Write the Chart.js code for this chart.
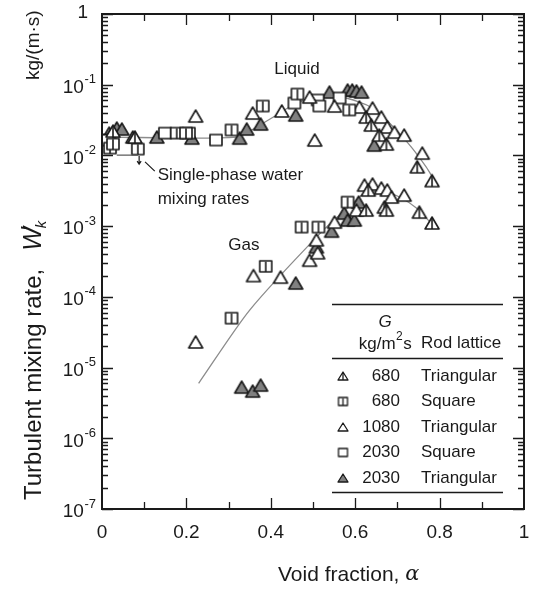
<!DOCTYPE html>
<html>
<head>
<meta charset="utf-8">
<script src="https://cdn.jsdelivr.net/npm/chart.js@4.4.1/dist/chart.umd.min.js"></script>
<style>
  html, body { margin: 0; padding: 0; background: #fff; }
</style>
</head>
<body>
<canvas id="mixing" width="534" height="589"></canvas>
<script>
const INK = '#1a1a1a';
const FIT_GRAY = '#8c8c8c';
const MARK_GRAY = '#808080';
const FONT = '"Liberation Sans", Arial, Helvetica, sans-serif';

// [void fraction, turbulent mixing rate kg/(m s)]
const tri680 = [
  [0.026, 0.0221], [0.078, 0.0182], [0.626, 0.0349], [0.638, 0.0269],
  [0.657, 0.0194], [0.674, 0.0145], [0.747, 0.0069], [0.782, 0.0044],
  [0.626, 0.00169], [0.669, 0.00186], [0.674, 0.00169], [0.752, 0.00158],
  [0.782, 0.00111], [0.631, 0.00324]
];
const sq680 = [
  [0.019, 0.0127], [0.026, 0.0145], [0.085, 0.0123], [0.177, 0.0207],
  [0.199, 0.0207], [0.307, 0.0229], [0.381, 0.050], [0.463, 0.0738],
  [0.586, 0.0439],
  [0.307, 5.0e-5], [0.388, 0.00027], [0.473, 0.00097], [0.513, 0.00097],
  [0.582, 0.00219]
];
const tri1080 = [
  [0.222, 0.0361], [0.357, 0.0398], [0.426, 0.0425], [0.492, 0.067],
  [0.504, 0.0165], [0.551, 0.050], [0.610, 0.0484], [0.641, 0.0468],
  [0.662, 0.0349], [0.676, 0.0252], [0.693, 0.0214], [0.716, 0.0194],
  [0.759, 0.0108],
  [0.222, 2.3e-5], [0.359, 0.00020], [0.423, 0.00019], [0.492, 0.00033],
  [0.508, 0.00064], [0.511, 0.00042], [0.551, 0.00114], [0.603, 0.00169],
  [0.622, 0.00381], [0.641, 0.00394], [0.662, 0.00346], [0.676, 0.00324],
  [0.686, 0.00258], [0.716, 0.00275]
];
const sq2030 = [
  [0.012, 0.0165], [0.149, 0.0207], [0.206, 0.0207], [0.270, 0.0165],
  [0.456, 0.0551], [0.511, 0.0608], [0.515, 0.050], [0.563, 0.0649]
];
const tri2030 = [
  [0.017, 0.0207], [0.035, 0.0244], [0.047, 0.0236], [0.073, 0.0182],
  [0.130, 0.0182], [0.213, 0.0176], [0.326, 0.0176], [0.343, 0.0236],
  [0.376, 0.0278], [0.459, 0.0373], [0.539, 0.0788], [0.582, 0.0841],
  [0.593, 0.0841], [0.603, 0.0815], [0.615, 0.0788], [0.645, 0.0140],
  [0.331, 5.3e-6], [0.357, 4.65e-6], [0.376, 5.65e-6], [0.459, 0.000157],
  [0.508, 0.00051], [0.544, 0.00085], [0.574, 0.00153], [0.582, 0.00122],
  [0.598, 0.00122], [0.608, 0.00219]
];

// correlation curves
const liquidFit = [
  [0, 0.0182], [0.319, 0.0182], [0.374, 0.0269], [0.414, 0.0373],
  [0.461, 0.0551], [0.508, 0.0649], [0.563, 0.067], [0.610, 0.0569],
  [0.641, 0.0468], [0.674, 0.0317], [0.704, 0.0207], [0.735, 0.0127],
  [0.768, 0.0069], [0.780, 0.0053]
];
const gasFit = [
  [0.229, 6.0e-6], [0.350, 6.5e-5], [0.522, 8.5e-4], [0.586, 1.9e-3],
  [0.626, 3.0e-3], [0.674, 3.0e-3], [0.704, 2.6e-3], [0.745, 1.8e-3],
  [0.780, 1.1e-3]
];

// single-phase water mixing rate bar
const singlePhase = { from: 0.035, to: 0.085, rate: 0.0101 };

const legendRows = [
  { kind: 'triBar', G: '680', lattice: 'Triangular' },
  { kind: 'sqBar', G: '680', lattice: 'Square' },
  { kind: 'tri', G: '1080', lattice: 'Triangular' },
  { kind: 'sq', G: '2030', lattice: 'Square' },
  { kind: 'triFill', G: '2030', lattice: 'Triangular' }
];

const xTickLabels = ['0', '0.2', '0.4', '0.6', '0.8', '1'];
const yDecades = [-7, -6, -5, -4, -3, -2, -1, 0];

function pts(arr) { return arr.map(p => ({ x: p[0], y: p[1] })); }

// little canvases used as point styles
function marker(kind, w, h, lw) {
  const pad = 2;
  const c = document.createElement('canvas');
  c.width = w + pad * 2;
  c.height = h + pad * 2;
  const g = c.getContext('2d');
  g.lineWidth = lw;
  g.strokeStyle = INK;
  g.lineJoin = 'round';
  const L = pad, R = pad + w, T = pad, B = pad + h, M = pad + w / 2;
  g.beginPath();
  if (kind.startsWith('tri')) {
    g.moveTo(M, T);
    g.lineTo(R, B);
    g.lineTo(L, B);
    g.closePath();
  } else {
    g.rect(L, T, w, h);
  }
  g.fillStyle = kind === 'triFill' ? MARK_GRAY : '#fff';
  g.fill();
  g.stroke();
  if (kind === 'triBar' || kind === 'sqBar') {
    g.beginPath();
    g.moveTo(M, T + 1);
    g.lineTo(M, B);
    g.stroke();
  }
  return c;
}

const bigMarks = {
  triBar: marker('triBar', 14, 12, 1.6),
  sqBar: marker('sqBar', 12, 11, 1.6),
  tri: marker('tri', 14, 12, 1.6),
  sq: marker('sq', 12, 11, 1.6),
  triFill: marker('triFill', 14, 12, 1.6)
};
const smallMarks = {
  triBar: marker('triBar', 10, 8, 1.3),
  sqBar: marker('sqBar', 9, 8, 1.3),
  tri: marker('tri', 10, 8, 1.3),
  sq: marker('sq', 9, 8, 1.3),
  triFill: marker('triFill', 10, 8, 1.3)
};

function markSet(data, kind) {
  return {
    data: pts(data),
    pointStyle: bigMarks[kind],
    pointRadius: 7,
    showLine: false,
    order: 1
  };
}

function fitSet(data) {
  return {
    data: pts(data),
    showLine: true,
    borderColor: FIT_GRAY,
    borderWidth: 1.3,
    pointRadius: 0,
    tension: 0.25,
    order: 10
  };
}

// text with a raised part, e.g. 10^-3; returns the right edge
function supText(ctx, base, sup, xLeft, y, size) {
  ctx.textAlign = 'left';
  ctx.font = `${size}px ${FONT}`;
  ctx.fillText(base, xLeft, y);
  const bw = ctx.measureText(base).width;
  ctx.font = `${Math.round(size * 0.68)}px ${FONT}`;
  ctx.fillText(sup, xLeft + bw + 0.5, y - size * 0.42);
  return xLeft + bw + 0.5 + ctx.measureText(sup).width;
}

function supWidth(ctx, base, sup, size) {
  ctx.font = `${size}px ${FONT}`;
  const bw = ctx.measureText(base).width;
  ctx.font = `${Math.round(size * 0.68)}px ${FONT}`;
  return bw + 0.5 + ctx.measureText(sup).width;
}

const decorations = {
  id: 'decorations',
  afterDatasetsDraw(chart) {
    const { ctx, chartArea: a } = chart;
    const xs = chart.scales.x, ys = chart.scales.y;
    ctx.save();
    ctx.fillStyle = INK;
    ctx.strokeStyle = INK;

    // frame
    ctx.lineWidth = 2;
    ctx.strokeRect(a.left, a.top, a.right - a.left, a.bottom - a.top);

    // inward ticks on all four sides
    ctx.lineWidth = 1.3;
    ctx.beginPath();
    for (let i = 1; i < 10; i++) {
      const px = Math.round(xs.getPixelForValue(i / 10)) + 0.5;
      const len = i % 2 === 0 ? 11 : 7;
      ctx.moveTo(px, a.bottom); ctx.lineTo(px, a.bottom - len);
      ctx.moveTo(px, a.top); ctx.lineTo(px, a.top + len);
    }
    yDecades.forEach(e => {
      for (let k = 1; k < 10; k++) {
        if (e === 0 && k > 1) break;
        const py = Math.round(ys.getPixelForValue(k * Math.pow(10, e))) + 0.5;
        const len = k === 1 ? 11 : 6;
        ctx.moveTo(a.left, py); ctx.lineTo(a.left + len, py);
        ctx.moveTo(a.right, py); ctx.lineTo(a.right - len, py);
      }
    });
    ctx.stroke();

    // x tick labels
    ctx.font = `19px ${FONT}`;
    ctx.textAlign = 'center';
    ctx.textBaseline = 'middle';
    xTickLabels.forEach(t => {
      ctx.fillText(t, xs.getPixelForValue(parseFloat(t)), a.bottom + 24);
    });

    // y tick labels
    yDecades.forEach(e => {
      const py = ys.getPixelForValue(Math.pow(10, e));
      if (e === 0) {
        ctx.font = `19px ${FONT}`;
        ctx.textAlign = 'right';
        ctx.fillText('1', 88, py - 1);
      } else {
        const w = supWidth(ctx, '10', String(e), 19);
        supText(ctx, '10', String(e), 96 - w, py + 3, 19);
      }
    });

    // x title
    ctx.textAlign = 'left';
    ctx.font = `21px ${FONT}`;
    const xt = 'Void fraction, ';
    ctx.fillText(xt, 278, a.bottom + 66);
    const xw = ctx.measureText(xt).width;
    ctx.font = `italic 21px "DejaVu Serif", serif`;
    ctx.fillText('\u03b1', 278 + xw, a.bottom + 66);

    // y title, rotated
    ctx.save();
    ctx.translate(34, 500);
    ctx.rotate(-Math.PI / 2);
    ctx.textAlign = 'left';
    ctx.font = `24px ${FONT}`;
    const yt = 'Turbulent mixing rate,';
    ctx.fillText(yt, 0, 0);
    let off = ctx.measureText(yt).width + 18;
    ctx.font = `italic 25px ${FONT}`;
    ctx.fillText('W', off, 0);
    off += ctx.measureText('W').width;
    ctx.font = `24px ${FONT}`;
    ctx.fillText('\u2032', off - 3, -3);
    ctx.font = `italic 15px ${FONT}`;
    ctx.fillText('k', off - 1, 8);
    ctx.restore();

    ctx.save();
    ctx.translate(34, 80);
    ctx.rotate(-Math.PI / 2);
    ctx.textAlign = 'left';
    ctx.font = `19px ${FONT}`;
    ctx.fillText('kg/(m\u00b7s)', 0, 0);
    ctx.restore();

    // curve labels
    ctx.font = `17px ${FONT}`;
    ctx.textAlign = 'center';
    ctx.fillText('Liquid', xs.getPixelForValue(0.462), ys.getPixelForValue(0.167));
    ctx.fillText('Gas', xs.getPixelForValue(0.336), ys.getPixelForValue(0.00054));

    // single-phase water reference
    const sy = ys.getPixelForValue(singlePhase.rate);
    ctx.strokeStyle = '#555';
    ctx.lineWidth = 1.2;
    ctx.beginPath();
    ctx.moveTo(xs.getPixelForValue(singlePhase.from), sy);
    ctx.lineTo(xs.getPixelForValue(singlePhase.to), sy);
    ctx.stroke();
    const ax = xs.getPixelForValue(0.088);
    ctx.strokeStyle = INK;
    ctx.beginPath();
    ctx.moveTo(ax, sy + 1); ctx.lineTo(ax, sy + 9);
    ctx.moveTo(ax - 2, sy + 6); ctx.lineTo(ax, sy + 9); ctx.lineTo(ax + 2, sy + 6);
    ctx.moveTo(xs.getPixelForValue(0.102), ys.getPixelForValue(0.0081));
    ctx.lineTo(xs.getPixelForValue(0.125), ys.getPixelForValue(0.0060));
    ctx.stroke();
    ctx.font = `17px ${FONT}`;
    ctx.textAlign = 'left';
    ctx.fillText('Single-phase water', xs.getPixelForValue(0.132), ys.getPixelForValue(0.0053));
    ctx.fillText('mixing rates', xs.getPixelForValue(0.132), ys.getPixelForValue(0.0024));

    // legend table
    const lx0 = 332, lx1 = 503;
    ctx.lineWidth = 1.4;
    ctx.beginPath();
    [304, 358, 492].forEach(y => { ctx.moveTo(lx0, y + 0.5); ctx.lineTo(lx1, y + 0.5); });
    ctx.stroke();
    ctx.textAlign = 'center';
    ctx.font = `italic 17px ${FONT}`;
    ctx.fillText('G', 385, 322);
    const hw = supWidth(ctx, 'kg/m', '2', 17);
    ctx.font = `17px ${FONT}`;
    const sw = ctx.measureText('s').width;
    const hx = 385 - (hw + sw) / 2;
    const he = supText(ctx, 'kg/m', '2', hx, 344, 17);
    ctx.font = `17px ${FONT}`;
    ctx.fillText('s', he + 0.5, 344);
    ctx.fillText('Rod lattice', 421, 343);
    legendRows.forEach((r, i) => {
      const y = 376 + i * 25.5;
      const m = smallMarks[r.kind];
      ctx.drawImage(m, 343 - m.width / 2, y - m.height / 2);
      ctx.textAlign = 'right';
      ctx.fillText(r.G, 400, y);
      ctx.textAlign = 'left';
      ctx.fillText(r.lattice, 421, y);
    });
    ctx.restore();
  }
};

// axes take no room of their own; the padding fixes the plot box
function noRoom(scale) {
  if (scale.isHorizontal()) scale.height = 0; else scale.width = 0;
}

new Chart(document.getElementById('mixing'), {
  type: 'scatter',
  data: {
    datasets: [
      markSet(tri680, 'triBar'),
      markSet(sq680, 'sqBar'),
      markSet(tri1080, 'tri'),
      markSet(sq2030, 'sq'),
      markSet(tri2030, 'triFill'),
      fitSet(liquidFit),
      fitSet(gasFit)
    ]
  },
  options: {
    responsive: false,
    animation: false,
    layout: { padding: { left: 102, right: 10, top: 14, bottom: 80 } },
    plugins: {
      legend: { display: false },
      tooltip: { enabled: false }
    },
    scales: {
      x: {
        type: 'linear', min: 0, max: 1,
        grid: { display: false }, border: { display: false },
        ticks: { display: false }, afterFit: noRoom
      },
      y: {
        type: 'logarithmic', min: 1e-7, max: 1,
        grid: { display: false }, border: { display: false },
        ticks: { display: false }, afterFit: noRoom
      }
    }
  },
  plugins: [decorations]
});
</script>
</body>
</html>
